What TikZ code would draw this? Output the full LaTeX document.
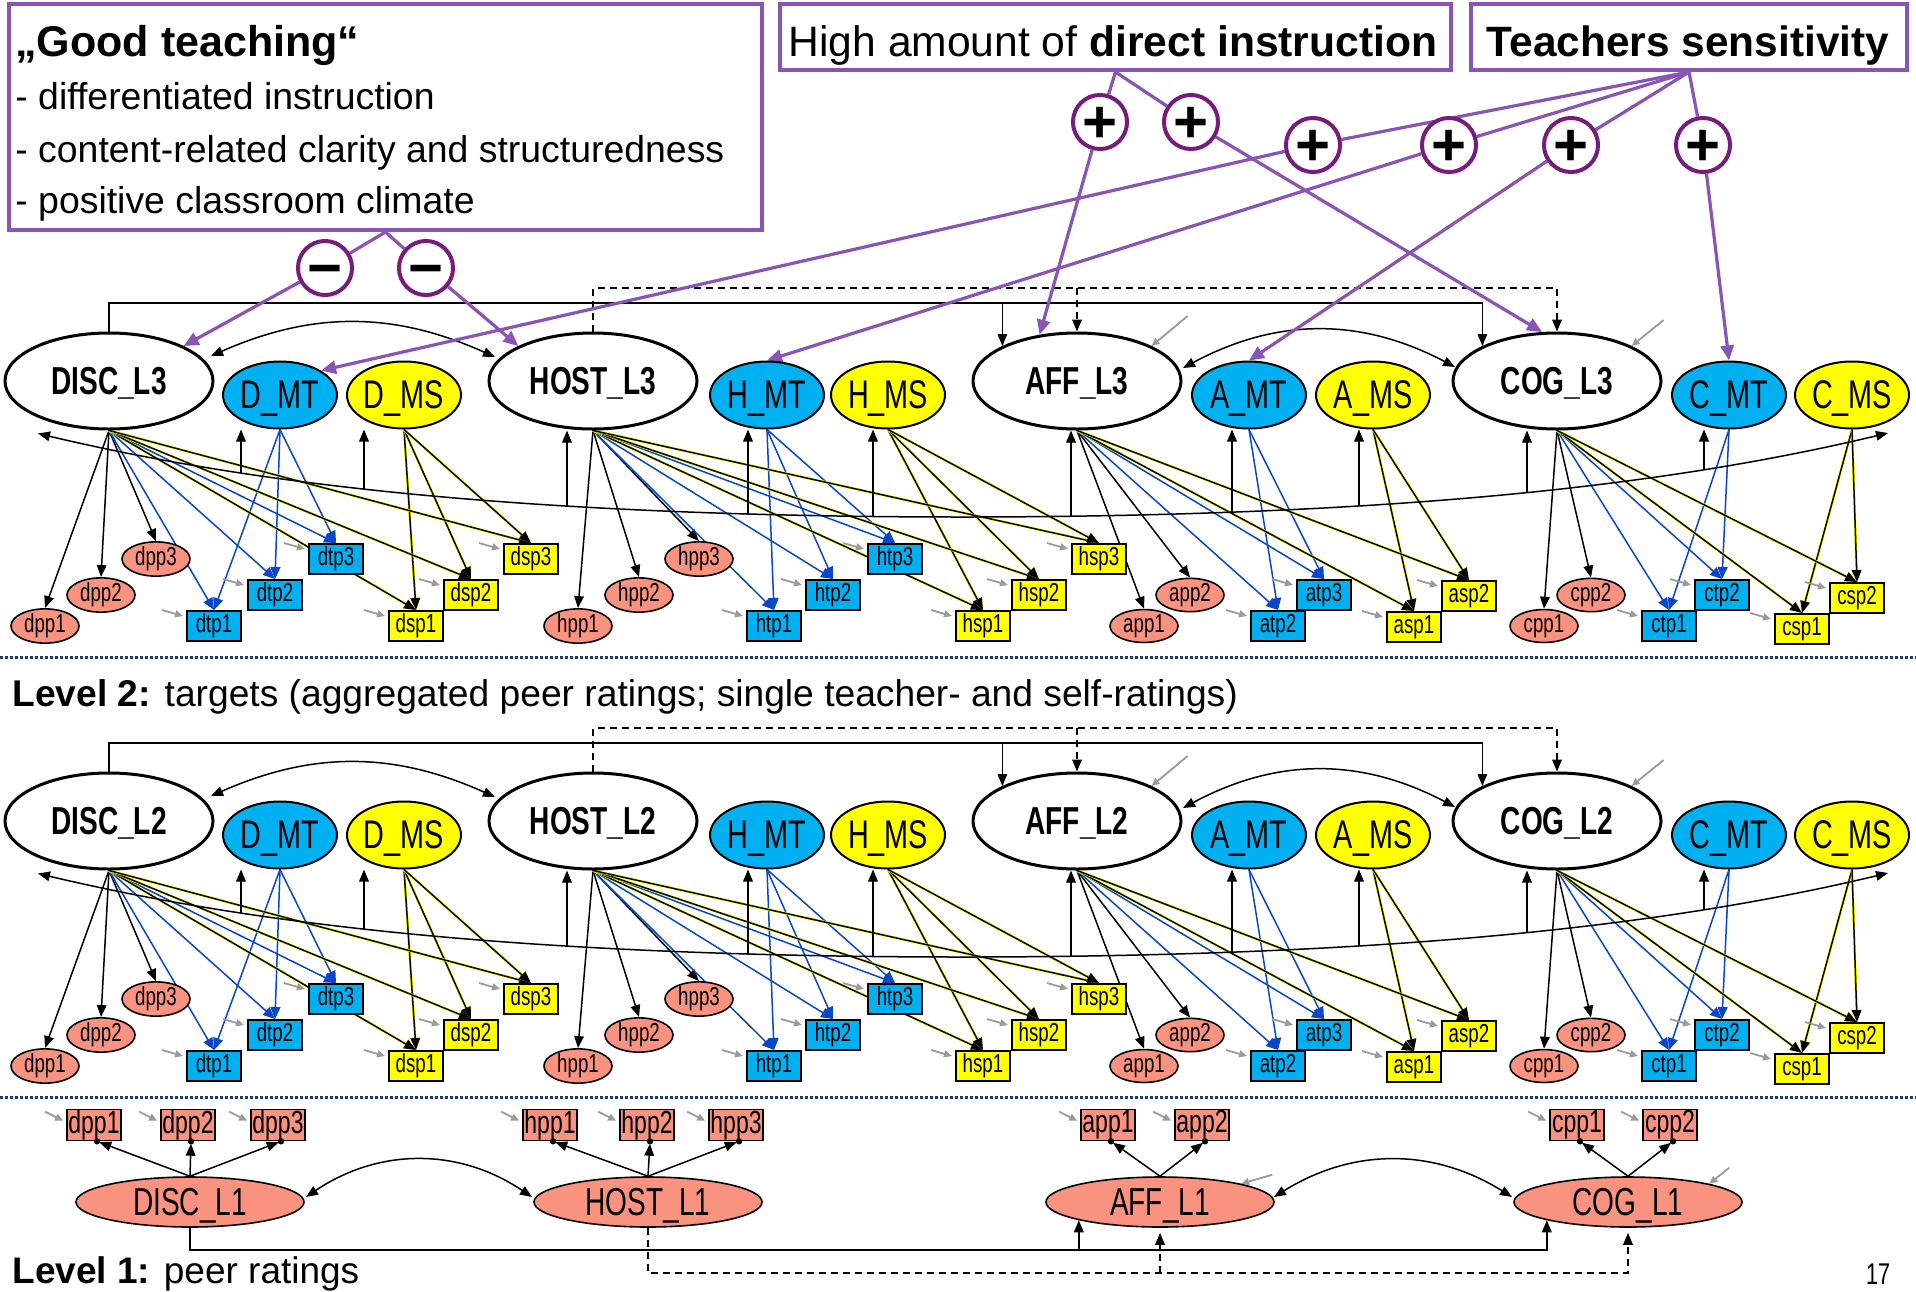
\documentclass[tikz,border=0pt]{standalone}
\usepackage{fontspec}
\setmainfont{Liberation Sans}
\newfontfamily\nar{Liberation Sans}[FakeStretch=0.72]
\usetikzlibrary{arrows.meta,calc,shapes.geometric}
\pgfdeclarelayer{back}\pgfdeclarelayer{bg}\pgfdeclarelayer{mid}
\pgfsetlayers{back,bg,mid,main}
\definecolor{cyanF}{RGB}{0,176,240}
\definecolor{yelF}{RGB}{255,255,0}
\definecolor{salm}{RGB}{250,146,128}
\definecolor{pbox}{RGB}{137,84,182}
\definecolor{pcirc}{RGB}{118,28,122}
\definecolor{blueL}{RGB}{10,70,200}
\definecolor{navy}{RGB}{30,55,110}
\definecolor{grayA}{RGB}{155,155,155}
\tikzset{
 latN/.style={ellipse, draw, line width=1.5pt, fill=white, minimum width=104pt, minimum height=48pt, inner sep=0pt, text depth=0pt, font={\nar\bfseries\fontsize{19.5}{19.5}\selectfont}},
 mtN/.style={ellipse, draw, line width=1pt, fill=cyanF, minimum width=57pt, minimum height=33.5pt, inner sep=0pt, text depth=0pt, font={\nar\fontsize{20}{20}\selectfont}},
 msN/.style={mtN, fill=yelF},
 ppN/.style={ellipse, draw, line width=0.8pt, fill=salm, minimum width=34pt, minimum height=14.5pt, inner sep=0pt, font={\nar\fontsize{13}{13}\selectfont}},
 tpN/.style={rectangle, draw, line width=1pt, fill=cyanF, minimum width=27pt, minimum height=15pt, inner sep=0pt, font={\nar\fontsize{13}{13}\selectfont}},
 spN/.style={tpN, fill=yelF},
 ldN/.style={ellipse, draw, line width=0.8pt, fill=salm, minimum width=114pt, minimum height=25pt, inner sep=0pt, text depth=0pt, font={\nar\fontsize{19.5}{19.5}\selectfont}},
 lbN/.style={rectangle, draw, line width=0.8pt, fill=salm, minimum width=27pt, minimum height=15.5pt, inner sep=0pt, font={\nar\fontsize{16}{16}\selectfont}},
 eK/.style={draw=black, line width=0.75pt, -{Triangle[length=6pt,width=4.8pt]}},
 eB/.style={draw=blueL, line width=0.75pt, -{Triangle[length=6pt,width=5pt]}},
 eY/.style={draw=black, line width=0.75pt, -{Triangle[length=6pt,width=4.8pt]}, preaction={draw=yelF, line width=1.3pt}},
 eR/.style={draw=grayA, line width=0.9pt, -{Triangle[length=4pt,width=3.5pt]}},
 eD/.style={draw=black, line width=0.75pt, dash pattern=on 3.5pt off 2.5pt, -{Triangle[length=6pt,width=4.8pt]}},
 eC/.style={draw=black, line width=0.75pt, {Triangle[length=6pt,width=4.8pt]}-{Triangle[length=6pt,width=4.8pt]}},
 eP/.style={draw=pbox, line width=1.6pt},
 ePh/.style={eP, -{Triangle[length=7.5pt,width=6.5pt]}},
 pbx/.style={rectangle, draw=pbox, line width=2pt, inner sep=0pt},
 circN/.style={circle, draw=pcirc, line width=2pt, fill=white, minimum size=23pt, inner sep=0pt, text height=20.7pt, text depth=0pt, font={\bfseries\fontsize{30}{30}\selectfont}},
 levelsep/.style={draw=navy, line width=1.5pt, dash pattern=on 1.5pt off 1pt},
 txt/.style={inner sep=0pt}
}
\newcommand{\construct}[6]{%
 \foreach \p in {#4} {\draw[eK] (#1.south) -- (\p.north);}
 \foreach \t in {#5} {\draw[eB] (#1.south) -- (\t.north); \draw[eB] (#2.south) -- (\t.north);
   \draw[eR] ($(\t.north west)+(-24,0)$) -- ($(\t.north west)+(-3,6)$);}
 \foreach \s in {#6} {\draw[eY] (#1.south) -- (\s.north); \draw[eY] (#3.south) -- (\s.north);
   \draw[eR] ($(\s.north west)+(-24,0)$) -- ($(\s.north west)+(-3,6)$);}
}
\newcommand{\drawlevel}[1]{%
 \node[latN] (DISC) at (109,381) {DISC\_L#1};
 \node[mtN] (DMT) at (280,395) {D\_MT};
 \node[msN] (DMS) at (404,395) {D\_MS};
 \node[latN] (HOST) at (593,381) {HOST\_L#1};
 \node[mtN] (HMT) at (767,395) {H\_MT};
 \node[msN] (HMS) at (888,395) {H\_MS};
 \node[latN] (AFF) at (1077,381) {AFF\_L#1};
 \node[mtN] (AMT) at (1249,395) {A\_MT};
 \node[msN] (AMS) at (1373,395) {A\_MS};
 \node[latN] (COG) at (1557,381) {COG\_L#1};
 \node[mtN] (CMT) at (1729,395) {C\_MT};
 \node[msN] (CMS) at (1852,395) {C\_MS};
 \foreach \n/\x/\y in {dpp1/45/626, dpp2/101/595, dpp3/156/559, hpp1/578/626, hpp2/639/595, hpp3/699/559, app1/1144/626, app2/1190/595, cpp1/1544/626, cpp2/1591/595}
   {\node[ppN] (\n) at (\x,\y) {\n};}
 \foreach \n/\x/\y in {dtp1/214/626, dtp2/275/595, dtp3/336/559, htp1/774/626, htp2/833/595, htp3/895/559, atp2/1278/626, atp3/1324/595, ctp1/1669/626, ctp2/1722/595}
   {\node[tpN] (\n) at (\x,\y) {\n};}
 \foreach \n/\x/\y in {dsp1/416/626, dsp2/471/595, dsp3/531/559, hsp1/983/626, hsp2/1039/595, hsp3/1099/559, asp1/1414/627, asp2/1469/596, csp1/1802/629, csp2/1857/598}
   {\node[spN] (\n) at (\x,\y) {\n};}
 \begin{pgfonlayer}{bg}
  \construct{DISC}{DMT}{DMS}{dpp1,dpp2,dpp3}{dtp1,dtp2,dtp3}{dsp1,dsp2,dsp3}
  \construct{HOST}{HMT}{HMS}{hpp1,hpp2,hpp3}{htp1,htp2,htp3}{hsp1,hsp2,hsp3}
  \construct{AFF}{AMT}{AMS}{app1,app2}{atp2,atp3}{asp1,asp2}
  \construct{COG}{CMT}{CMS}{cpp1,cpp2}{ctp1,ctp2}{csp1,csp2}
  \coordinate (ys) at (109,303);
  \coordinate (yd) at (593,288);
  \draw[eK] (DISC.north) |- (ys -| COG.north west) -- (COG.north west);
  \draw[eK] (ys -| AFF.north west) -- (AFF.north west);
  \draw[eD] (HOST.north) |- (yd -| COG.north) -- (COG.north);
  \draw[eD] (yd -| AFF.north) -- (AFF.north);
  \draw[eC] ($(DISC.center)+(102,-25)$) to[bend left=24] ($(HOST.center)+(-98,-24)$);
  \draw[eC] ($(AFF.center)+(106,-13)$) to[bend left=28] ($(COG.center)+(-102,-14)$);
  \draw[eR] ($(AFF.north east)+(36,-30)$) -- (AFF.north east);
  \draw[eR] ($(COG.north east)+(32,-26)$) -- (COG.north east);
  \draw[eC] plot[domain=38:1888, samples=120] (\x,{corr(\x)});
  \foreach \n/\x/\d in {DMT/241/-39, DMS/364/-40, HOST/567/-26, HMT/748/-19, HMS/873/-15, AFF/1071/-6, AMT/1232/-17, AMS/1359/-14, COG/1527/-30, CMT/1704/-25}
   {\coordinate (cv\n) at (\x,{corr(\x)});
    \draw[eK] (cv\n) -- ($(\n.south)+(\d,0)$);}
 \end{pgfonlayer}
}
\begin{document}
\begin{tikzpicture}[x=0.5pt, y=-0.5pt,
  declare function={cu(\x)=(\x-962)/926; corr(\x)=517-54.6*cu(\x)*cu(\x)-29.4*cu(\x)*cu(\x)*cu(\x)*cu(\x);}]
\useasboundingbox (0,0) rectangle (1916,1291);
\begin{pgfonlayer}{back}
 \fill[white] (0,0) rectangle (1916,1291);
\end{pgfonlayer}

% top boxes
\node[pbx, minimum width=376.5pt, minimum height=113pt] (good) at (385.5,117) {};
\node[txt, anchor=base west, font={\bfseries\fontsize{21.5}{21.5}\selectfont}] (gtitle) at (15,56) {„Good teaching“};
\node[txt, anchor=base west, font={\fontsize{18.7}{18.7}\selectfont}] (gl1) at (15,109) {- differentiated instruction};
\node[txt, anchor=base west, font={\fontsize{18.7}{18.7}\selectfont}] (gl2) at (15,162) {- content-related clarity and structuredness};
\node[txt, anchor=base west, font={\fontsize{18.7}{18.7}\selectfont}] (gl3) at (15,213) {- positive classroom climate};
\node[pbx, minimum width=335.5pt, minimum height=33pt] (high) at (1115.5,37) {};
\node[txt, anchor=base, font={\fontsize{21.3}{21.3}\selectfont}] (hightext) at (1113,56) {High amount of \textbf{direct instruction}};
\node[pbx, minimum width=218pt, minimum height=33pt] (teach) at (1689,37) {};
\node[txt, anchor=base, font={\bfseries\fontsize{21.2}{21.2}\selectfont}] (teachtext) at (1688,56) {Teachers sensitivity};

% levels 3 and 2
\begin{scope}[name prefix=L3-]\drawlevel{3}\end{scope}
\begin{scope}[name prefix=L2-, yshift=-220pt]\drawlevel{2}\end{scope}

% separators and labels
\draw[levelsep] (0,657) -- (1916,657);
\draw[levelsep] (0,1097) -- (1916,1097);
\node[txt, anchor=base west, font={\fontsize{18.6}{18.6}\selectfont}] (lev2) at (12,706) {\textbf{Level 2:} targets (aggregated peer ratings; single teacher- and self-ratings)};
\node[txt, anchor=base west, font={\fontsize{18.5}{18.5}\selectfont}] (lev1) at (12,1283) {\textbf{Level 1:} peer ratings};
\node[txt, anchor=base, font={\nar\fontsize{15}{15}\selectfont}] (pgnum) at (1878,1284) {17};

% level 1
\node[ldN] (L1-DISC) at (190,1202) {DISC\_L1};
\node[ldN] (L1-HOST) at (648,1202) {HOST\_L1};
\node[ldN] (L1-AFF) at (1160,1202) {AFF\_L1};
\node[ldN] (L1-COG) at (1628,1202) {COG\_L1};
\foreach \n/\x in {dpp1/94, dpp2/188, dpp3/278, hpp1/550, hpp2/647, hpp3/736, app1/1108, app2/1202, cpp1/1577, cpp2/1670}
  {\node[lbN] (L1-\n) at (\x,1125) {\n};}
\begin{pgfonlayer}{bg}
 \foreach \l/\b in {DISC/dpp1, DISC/dpp2, DISC/dpp3, HOST/hpp1, HOST/hpp2, HOST/hpp3, AFF/app1, AFF/app2, COG/cpp1, COG/cpp2}
  {\draw[eK, shorten >=1.2pt] (L1-\l.north) -- ($(L1-\b.south)+(3,0)$);
   \draw[eR] ($(L1-\b.north west)+(-21,3)$) -- ($(L1-\b.north west)+(-3,12)$);}
 \draw[eC] ($(L1-DISC.center)+(116,-5)$) to[bend left=34] ($(L1-HOST.center)+(-116,-5)$);
 \draw[eC] ($(L1-AFF.center)+(114,-5)$) to[bend left=32] ($(L1-COG.center)+(-116,-5)$);
 \draw[eR] ($(L1-AFF.north east)+(31,-9)$) -- (L1-AFF.north east);
 \draw[eR] ($(L1-COG.north east)+(20,-16)$) -- (L1-COG.north east);
 \coordinate (L1ys) at (190,1250);
 \coordinate (L1yd) at (648,1273);
 \draw[eK] (L1-DISC.south) |- (L1ys -| L1-COG.south west) -- (L1-COG.south west);
 \draw[eK] (L1ys -| L1-AFF.south west) -- (L1-AFF.south west);
 \draw[eD] (L1-HOST.south) |- (L1yd -| L1-COG.south) -- ($(L1-COG.south)+(0,5)$);
 \draw[eD] (L1yd -| L1-AFF.south) -- ($(L1-AFF.south)+(0,5)$);
\end{pgfonlayer}
\foreach \b in {dpp1,dpp2,dpp3,hpp1,hpp2,hpp3,app1,app2,cpp1,cpp2}
  {\fill ($(L1-\b.south)+(3,0)$) circle[radius=1.6pt];}

% purple moderators
\node[circN] (m1) at (325,268) {−};
\node[circN] (m2) at (426,268) {−};
\node[circN] (p1) at (1100,122) {+};
\node[circN] (p2) at (1191,122) {+};
\node[circN] (p3) at (1313,145) {+};
\node[circN] (p4) at (1449,145) {+};
\node[circN] (p5) at (1571,145) {+};
\node[circN] (p6) at (1703,145) {+};
\begin{pgfonlayer}{mid}
 \draw[eP] (good.south) -- (m1); \draw[ePh] (m1) -- (L3-DISC.north east);
 \draw[eP] (good.south) -- (m2); \draw[ePh] (m2) -- (L3-HOST.north west);
 \draw[eP] (high.south) -- (p1); \draw[ePh] (p1) -- (L3-AFF.129);
 \draw[eP] (high.south) -- (p2); \draw[ePh] (p2) -- (L3-COG.107);
 \draw[eP] (teach.south) -- (p3); \draw[ePh] (p3) -- (L3-DMT.north east);
 \draw[eP] (teach.south) -- (p4); \draw[ePh] (p4) -- (L3-HMT.north);
 \draw[eP] (teach.south) -- (p5); \draw[ePh] (p5) -- (L3-AMT.north);
 \draw[eP] (teach.south) -- (p6); \draw[ePh] (p6) -- (L3-CMT.north);
\end{pgfonlayer}
\end{tikzpicture}
\end{document}
